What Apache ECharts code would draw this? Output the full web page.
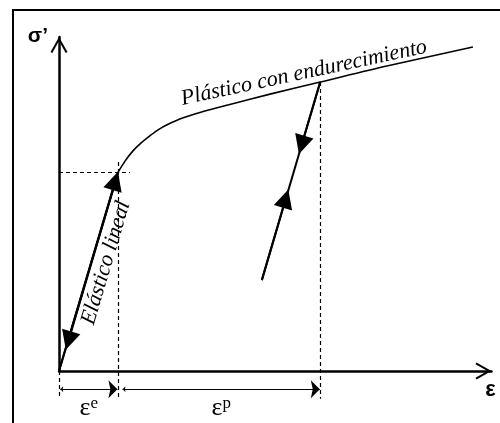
<!DOCTYPE html>
<html><head><meta charset="utf-8">
<script src="https://cdn.jsdelivr.net/npm/echarts@6/dist/echarts.min.js"></script>
<style>html,body{margin:0;padding:0;background:#fff}#c{width:500px;height:423px}</style>
</head><body><div id="c"></div>
<script>
// ---- data (strain / stress in arbitrary units, axes 0..100) ----
const yieldPoint = [13.7, 59.6];
const hardeningStrain = [13.7, 15.3, 17.1, 19.0, 21.0, 22.9, 25.0, 28.7, 32.6, 39.5, 48.8, 60.4, 75.8, 95.7];
const hardeningStress = [59.6, 62.9, 65.9, 68.3, 70.4, 72.2, 73.7, 75.8, 77.4, 79.8, 82.9, 86.5, 91.3, 97.0];
const unloadStart = [60.4, 86.5];
const unloadEnd = [46.9, 27.2];
const elasticArrowUp = [13.0, 56.9];
const elasticArrowDown = [2.2, 9.1];
const unloadArrowDown = [56.1, 67.7];
const unloadArrowUp = [52.4, 51.6];
const guideBottom = -8.3;
const guideTopYield = 62.6;
const guideRightYield = 16.4;
const dimLevel = -5.5;
const dimSpans = [[0.3, 13.5], [14.7, 60.3]];
const dimSup = ['e', 'p'];
const axisNames = ['ε', 'σ’'];
const labelPlastic = 'Plástico con endurecimiento';
const labelElastic = 'Elástico lineal';

const chevron = 'path://M8.5,0 L17,15 L15.2,16 L8.5,4 L1.8,16 L0,15 Z';
const tipArrow = 'path://M3,0 M3,9 L6,18 L3,16 L0,18 Z';

const chart = echarts.init(document.getElementById('c'), null, {renderer: 'canvas'});
const black = '#000';
const serif = 'Liberation Serif';

const axisCommon = {
  type: 'value', min: 0, max: 100,
  splitLine: {show: false}, axisTick: {show: false}, axisLabel: {show: false},
  axisLine: {show: true, lineStyle: {color: black, width: 2.5},
    symbol: ['none', chevron], symbolSize: [17, 16], symbolOffset: [0, -8]}
};

const italicText = {fill: black, fontFamily: serif, fontStyle: 'italic', fontSize: 22, align: 'center', verticalAlign: 'middle'};

chart.setOption({
  animation: false,
  backgroundColor: '#fff',
  grid: {left: 59, right: 8.5, top: 37, bottom: 52, outerBoundsMode: 'none'},
  xAxis: Object.assign({}, axisCommon, {
    name: axisNames[0], nameLocation: 'end', nameGap: -1,
    nameTextStyle: {fontFamily: 'Liberation Sans', fontWeight: 'bold', fontSize: 22, color: black,
      align: 'center', verticalAlign: 'top', padding: [8, 0, 0, 0]}
  }),
  yAxis: Object.assign({}, axisCommon, {
    name: axisNames[1], nameLocation: 'end', nameGap: -10,
    nameTextStyle: {fontFamily: 'Liberation Sans', fontWeight: 'bold', fontSize: 21, color: black,
      align: 'right', verticalAlign: 'bottom', padding: [0, 11, 0, 0]}
  }),
  graphic: [
    {type: 'rect', silent: true, z: -10, shape: {x: 13, y: 10, width: 600, height: 600},
      style: {fill: 'none', stroke: black, lineWidth: 2}},
    {type: 'text', x: 304, y: 73, rotation: 0.211, silent: true,
      style: Object.assign({text: labelPlastic}, italicText)},
    {type: 'text', x: 106, y: 263, rotation: 1.283, silent: true,
      style: Object.assign({text: labelElastic}, italicText)}
  ],
  series: [
    {
      type: 'line', name: 'hardening', showSymbol: false, smooth: 0.3,
      data: hardeningStrain.map((x, i) => [x, hardeningStress[i]]),
      lineStyle: {color: black, width: 1.6}
    },
    {
      type: 'lines', name: 'elastic', coordinateSystem: 'cartesian2d',
      symbol: ['none', 'triangle'], symbolSize: [13, 19],
      lineStyle: {color: black, width: 2, opacity: 1, curveness: 0},
      data: [
        {coords: [[0, 0], elasticArrowUp]},
        {coords: [yieldPoint, elasticArrowDown]},
        {coords: [unloadStart, unloadArrowDown]},
        {coords: [unloadEnd, unloadArrowUp]}
      ]
    },
    {
      type: 'lines', name: 'unloading', coordinateSystem: 'cartesian2d',
      symbol: ['none', 'none'],
      lineStyle: {color: black, width: 2, opacity: 1, curveness: 0},
      data: [{coords: [unloadStart, unloadEnd]}, {coords: [[0, 0], yieldPoint]}]
    },
    {
      type: 'lines', name: 'guides', coordinateSystem: 'cartesian2d', clip: false,
      symbol: ['none', 'none'],
      lineStyle: {color: black, width: 1.2, opacity: 1, type: [4, 3], curveness: 0},
      data: [
        {coords: [[0, yieldPoint[1]], [guideRightYield, yieldPoint[1]]]},
        {coords: [[yieldPoint[0], guideTopYield], [yieldPoint[0], guideBottom]]},
        {coords: [[0, 0], [0, guideBottom]]},
        {coords: [unloadStart, [unloadStart[0], guideBottom]]}
      ]
    },
    {
      type: 'lines', name: 'dims', coordinateSystem: 'cartesian2d', clip: false,
      symbol: [tipArrow, tipArrow], symbolSize: [6, 18],
      lineStyle: {color: black, width: 1.2, opacity: 1, curveness: 0},
      label: {
        show: true, position: 'insideMiddleBottom', distance: 6, color: black,
        formatter: p => '{a|ε}{b|' + dimSup[p.dataIndex] + '}',
        rich: {
          a: {fontFamily: serif, fontSize: 26, color: black},
          b: {fontFamily: serif, fontSize: 17, color: black, verticalAlign: 'top', padding: [0, 0, 8, 0]}
        }
      },
      data: dimSpans.map(s => ({coords: [[s[0], dimLevel], [s[1], dimLevel]]}))
    }
  ]
});
</script></body></html>
